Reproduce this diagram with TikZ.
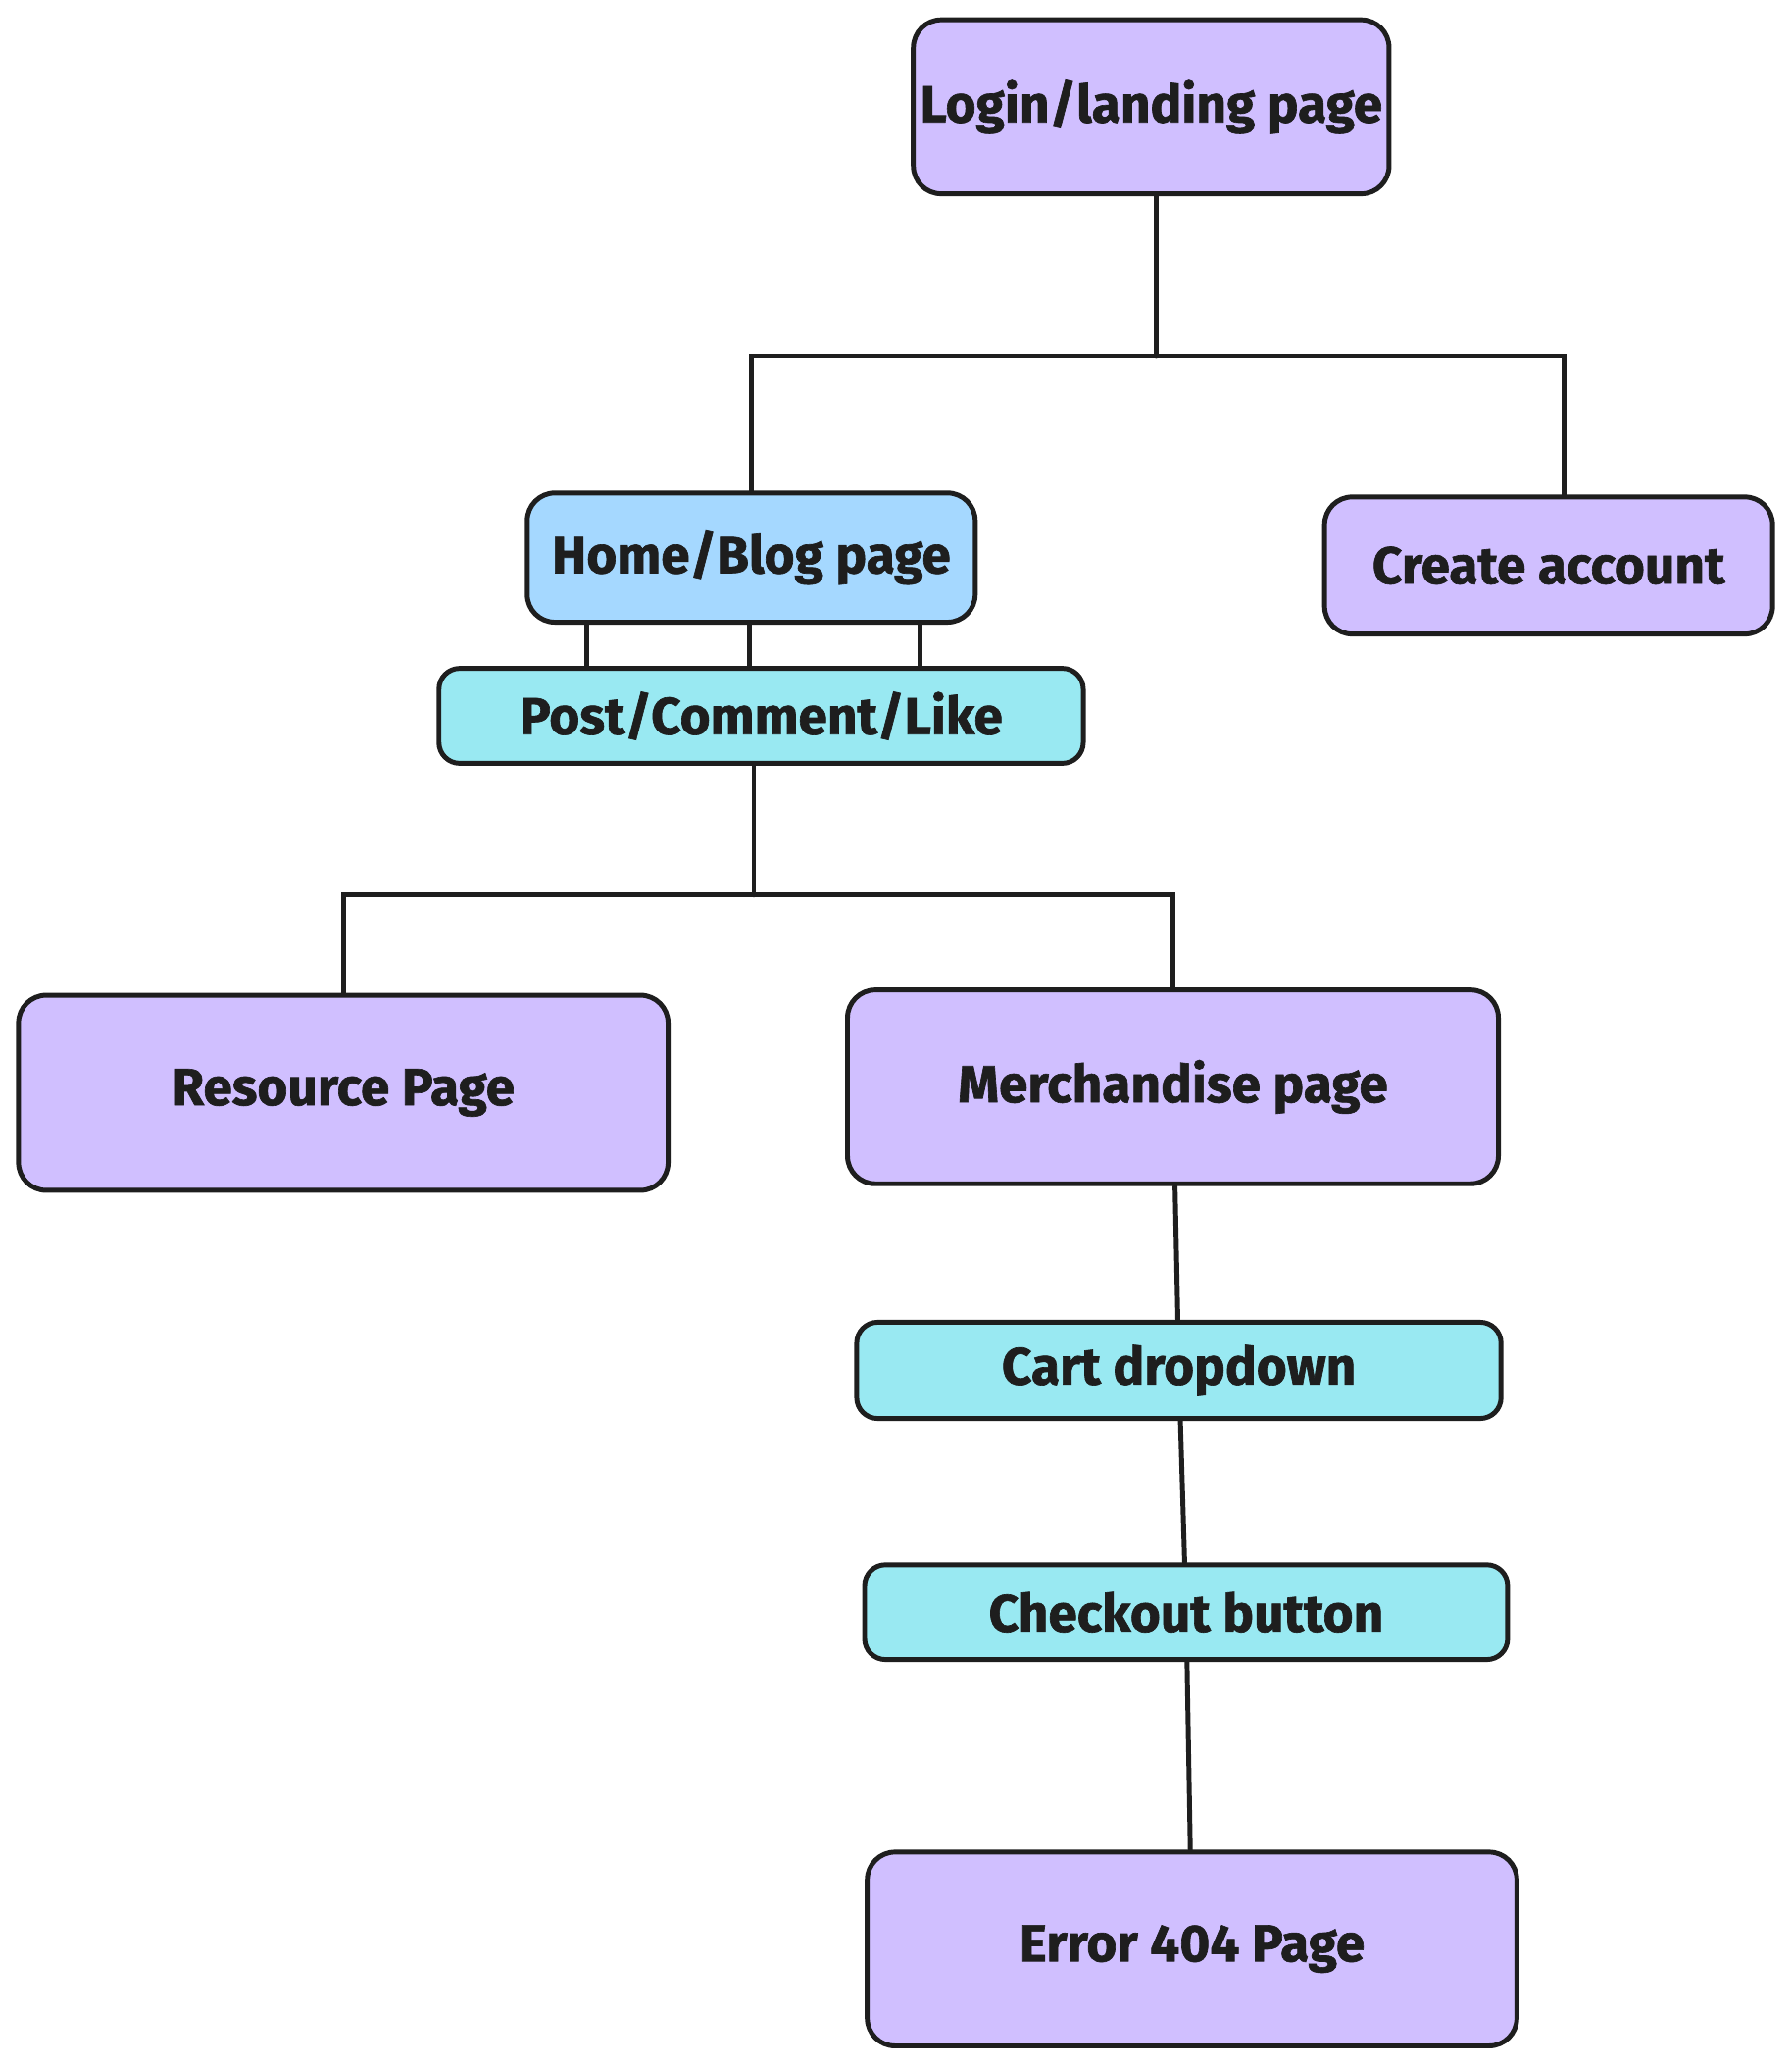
\documentclass[tikz,border=0pt]{standalone}
\usepackage{fontspec}
\setmainfont{Fira Sans}[BoldFeatures={FakeBold=1.2}]
\usepackage{xcolor}
\usepackage{tikz}
\usetikzlibrary{positioning,calc}
\definecolor{violetPage}{HTML}{D0BFFF}
\definecolor{bleuPage}{HTML}{A5D8FF}
\definecolor{cyanAction}{HTML}{99E9F2}
\definecolor{encre}{HTML}{1E1E1E}
\tikzset{
  page/.style={
    rectangle, rounded corners=12pt, draw=encre, line width=2.1pt,
    fill=violetPage, align=center, text=encre,
    font=\fontsize{22.5}{27}\selectfont\bfseries, inner sep=0pt},
  pageBleue/.style={page, fill=bleuPage},
  action/.style={page, fill=cyanAction, rounded corners=9pt},
  trait/.style={draw=encre, line width=2.1pt, line cap=round}
}
\begin{document}
\begin{tikzpicture}[x=0.02cm, y=-0.02cm]
  \useasboundingbox (0,0) rectangle (1359,1568);

  % --- Haut : connexion et compte
  \node[page, minimum width=7.22cm, minimum height=2.64cm] (login) at (873.5,81) {Login/landing page};
  \node[pageBleue, minimum width=6.8cm, minimum height=1.96cm] (home) at (570,423) {Home/Blog page};
  \node[page, minimum width=6.8cm, minimum height=2.08cm] (compte) at (1175,429) {Create account};
  \node[action, minimum width=9.78cm, minimum height=1.44cm] (post) at (577.5,543) {Post/Comment/Like};

  % --- Milieu : ressources et boutique
  \node[page, minimum width=9.86cm, minimum height=2.96cm] (ressource) at (260.5,829) {Resource Page};
  \node[page, minimum width=9.88cm, minimum height=2.94cm] (boutique) at (890,824.5) {Merchandise page};

  % --- Bas : achat
  \node[action, minimum width=9.78cm, minimum height=1.46cm] (panier) at (894.5,1039.5) {Cart dropdown};
  \node[action, minimum width=9.76cm, minimum height=1.44cm] (paiement) at (900,1223) {Checkout button};
  \node[page, minimum width=9.86cm, minimum height=2.94cm] (erreur) at (904.5,1478.5) {Error 404 Page};

  % --- Embranchements
  \coordinate (b1) at (877,270);
  \coordinate (b1d) at (1187,270);
  \coordinate (b2) at (572,679);

  \draw[trait] (login.south -| b1) -- (b1);
  \draw[trait] (home.north) |- (b1d) -- (compte.north -| b1d);
  \draw[trait] (post.south -| b2) -- (b2);
  \draw[trait] (ressource.north) |- (b2) -| (boutique.north);

  \foreach \x in {445,569,698}
    \draw[trait] (home.south -| \x,0) -- (post.north -| \x,0);

  \foreach \a/\b in {boutique/panier, panier/paiement, paiement/erreur}
    \draw[trait] (\a) -- (\b);

\end{tikzpicture}
\end{document}
